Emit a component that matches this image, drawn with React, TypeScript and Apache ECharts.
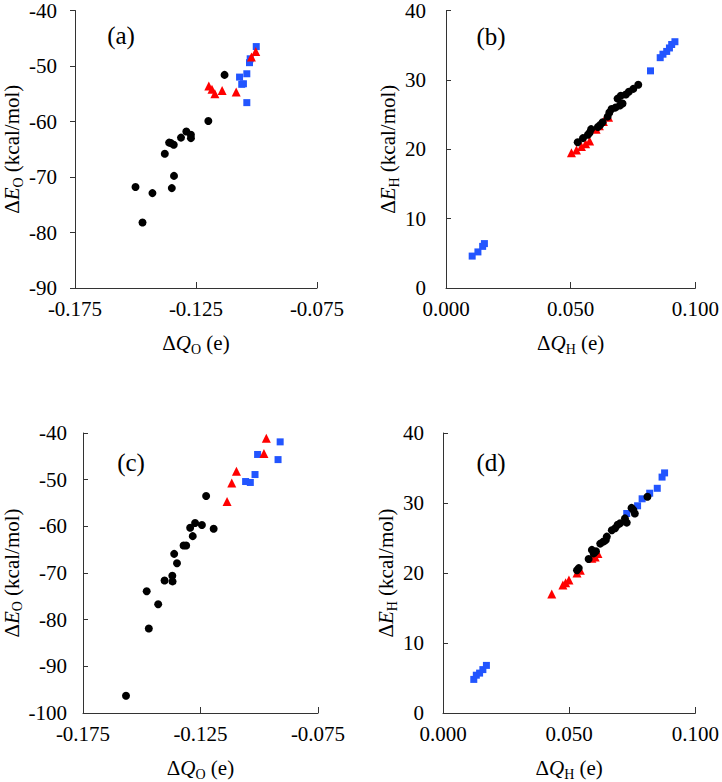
import React, { useEffect, useRef } from 'react';
import * as echarts from 'echarts';

const FONT = 'Liberation Serif';

// ---- tick definitions ----
const xTicksO = [-0.175, -0.125, -0.075];
const xTicksH = [0.0, 0.05, 0.1];
const yTicksA = [-90, -80, -70, -60, -50, -40];
const yTicksB = [0, 10, 20, 30, 40];
const yTicksC = [-100, -90, -80, -70, -60, -50, -40];
const yTicksD = [0, 10, 20, 30, 40];

// ---- panel (a): ΔQO vs ΔEO ----
const aCircles: number[][] = [
  [-0.1132, -51.6], [-0.1199, -59.9], [-0.129, -61.8], [-0.1271, -62.4], [-0.1271, -63.0],
  [-0.1312, -62.9], [-0.1361, -63.8], [-0.1353, -63.9], [-0.1342, -64.2], [-0.1379, -65.8],
  [-0.1341, -69.8], [-0.15, -71.8], [-0.143, -72.9], [-0.135, -72.0], [-0.1471, -78.2],
];
const aTriangles: number[][] = [
  [-0.1197, -53.6], [-0.1184, -54.2], [-0.1172, -55.0], [-0.1142, -54.4], [-0.1084, -54.7],
  [-0.1021, -48.4], [-0.1003, -47.4],
];
const aSquares: number[][] = [
  [-0.1001, -46.5], [-0.1029, -49.4], [-0.1026, -48.7], [-0.104, -51.4], [-0.107, -52.0],
  [-0.1054, -53.2], [-0.1061, -53.3], [-0.104, -56.6],
];

// ---- panel (b): ΔQH vs ΔEH ----
const bCircles: number[][] = [
  [0.0771, 29.3], [0.0751, 28.7], [0.0733, 28.3], [0.0721, 27.9], [0.0701, 27.7],
  [0.0688, 27.3], [0.0708, 26.6], [0.0697, 26.3], [0.0679, 26.0], [0.0664, 25.8],
  [0.0655, 25.3], [0.0648, 24.7], [0.0628, 23.9], [0.0618, 23.5], [0.0609, 23.2],
  [0.0582, 22.9], [0.0576, 22.4], [0.0569, 22.1], [0.0549, 21.6], [0.0528, 21.0],
];
const bTriangles: number[][] = [
  [0.0503, 19.5], [0.0523, 19.9], [0.0543, 20.4], [0.056, 20.8], [0.0576, 21.2],
  [0.0602, 22.9], [0.0615, 23.4], [0.0631, 24.0], [0.0652, 24.6],
];
const bSquares: number[][] = [
  [0.0105, 4.6], [0.0128, 5.2], [0.0147, 6.0], [0.0154, 6.4],
  [0.082, 31.3], [0.0859, 33.2], [0.087, 33.7], [0.0885, 34.1], [0.0896, 34.6],
  [0.0905, 35.1], [0.0918, 35.5],
];

// ---- panel (c): ΔQO vs ΔEO ----
const cCircles: number[][] = [
  [-0.1226, -53.5], [-0.1194, -60.5], [-0.1244, -59.7], [-0.1273, -59.3], [-0.1294, -60.3],
  [-0.1283, -62.1], [-0.1322, -64.1], [-0.1311, -64.1], [-0.1362, -65.9], [-0.135, -67.9],
  [-0.137, -70.6], [-0.1369, -71.8], [-0.1403, -71.6], [-0.1479, -73.9], [-0.143, -76.7],
  [-0.147, -81.9], [-0.1567, -96.3],
];
const cTriangles: number[][] = [
  [-0.1137, -54.7], [-0.1117, -50.7], [-0.1097, -48.2], [-0.098, -44.4], [-0.097, -41.1],
];
const cSquares: number[][] = [
  [-0.0911, -41.9], [-0.092, -45.7], [-0.1007, -44.6], [-0.1018, -48.9], [-0.1038, -50.6],
  [-0.1058, -50.4],
];

// ---- panel (d): ΔQH vs ΔEH ----
const dCircles: number[][] = [
  [0.0531, 20.4], [0.0538, 20.7], [0.0577, 22.0], [0.059, 23.3], [0.0597, 22.8],
  [0.0606, 23.1], [0.0623, 24.2], [0.0636, 24.5], [0.0645, 24.7], [0.0649, 25.2],
  [0.0669, 26.1], [0.0682, 26.4], [0.0692, 26.9], [0.0702, 27.1], [0.0721, 27.8],
  [0.0728, 27.2], [0.0747, 29.3], [0.0754, 29.0], [0.076, 28.5], [0.081, 30.9],
];
const dTriangles: number[][] = [
  [0.0431, 17.0], [0.0475, 18.3], [0.0486, 18.6], [0.0499, 19.0], [0.0531, 20.0],
  [0.0544, 20.4], [0.059, 22.1], [0.0603, 22.3], [0.0614, 22.8],
];
const dSquares: number[][] = [
  [0.0122, 4.8], [0.0132, 5.4], [0.0145, 5.7], [0.0158, 6.2], [0.0172, 6.8],
  [0.0728, 28.5], [0.0771, 29.6], [0.0789, 30.6], [0.0819, 31.4], [0.0849, 32.1],
  [0.0868, 33.7], [0.0878, 34.3],
];

const panelLabels = ['(a)', '(b)', '(c)', '(d)'];

const BLACK = '#000000';
const RED = '#ff0000';
const BLUE = '#2255ff';

const rich = {
  d: { fontFamily: FONT, fontSize: 21, color: '#000' },
  i: { fontFamily: FONT, fontSize: 21, fontStyle: 'italic', color: '#000' },
  s: { fontFamily: FONT, fontSize: 14, color: '#000', padding: [12, 0, 0, 0] },
  n: { fontFamily: FONT, fontSize: 21, color: '#000' },
};

function xAxisDef(grid: number, ticks: number[], sub: string) {
  return {
    type: 'value',
    gridIndex: grid,
    min: ticks[0],
    max: ticks[ticks.length - 1],
    interval: ticks[1] - ticks[0],
    name: `{d|Δ}{i|Q}{s|${sub}}{n| (e)}`,
    nameLocation: 'middle',
    nameGap: 42,
    nameTextStyle: { fontFamily: FONT, fontSize: 21, color: '#000', rich },
    axisLine: { show: true, onZero: false, lineStyle: { color: '#333', width: 1 } },
    axisTick: { show: true, inside: true, length: 6, lineStyle: { color: '#333' } },
    axisLabel: {
      fontFamily: FONT, fontSize: 21, color: '#000', margin: 10,
      formatter: (v: number) => v.toFixed(3),
    },
    splitLine: { show: false },
  };
}

function yAxisDef(grid: number, ticks: number[], sub: string, gap: number, inside: boolean, margin: number) {
  return {
    type: 'value',
    gridIndex: grid,
    min: ticks[0],
    max: ticks[ticks.length - 1],
    interval: ticks[1] - ticks[0],
    name: `{d|Δ}{i|E}{s|${sub}}{n| (kcal/mol)}`,
    nameLocation: 'middle',
    nameRotate: 90,
    nameGap: gap,
    nameTextStyle: { fontFamily: FONT, fontSize: 21, color: '#000', rich },
    axisLine: { show: true, onZero: false, lineStyle: { color: '#333', width: 1 } },
    axisTick: { show: true, inside, length: 5, lineStyle: { color: '#333' } },
    axisLabel: { fontFamily: FONT, fontSize: 21, color: '#000', margin },
    splitLine: { show: false },
  };
}

function scatter(idx: number, data: number[][], symbol: string, color: string, size: number) {
  return {
    type: 'scatter',
    xAxisIndex: idx,
    yAxisIndex: idx,
    data,
    symbol,
    symbolSize: size,
    itemStyle: { color, opacity: 1 },
    silent: true,
  };
}

export default function App() {
  const ref = useRef<HTMLDivElement>(null);
  useEffect(() => {
    if (!ref.current) return;
    const chart = echarts.init(ref.current, null, { renderer: 'svg' });
    const grids = [
      { left: 75, top: 9, width: 242, height: 279 },
      { left: 446, top: 9, width: 253, height: 279 },
      { left: 83, top: 433, width: 235, height: 280 },
      { left: 443, top: 433, width: 255, height: 280 },
    ];
    const panels = [
      [aCircles, aTriangles, aSquares],
      [bCircles, bTriangles, bSquares],
      [cCircles, cTriangles, cSquares],
      [dCircles, dTriangles, dSquares],
    ];
    const series: any[] = [];
    panels.forEach((p, i) => {
      series.push(scatter(i, p[2], 'rect', BLUE, 7));
      series.push(scatter(i, p[1], 'triangle', RED, 9));
      series.push(scatter(i, p[0], 'circle', BLACK, 8));
    });
    const labelPos = [
      [121, 35], [491, 36], [131, 462], [491, 462],
    ];
    chart.setOption({
      animation: false,
      backgroundColor: '#ffffff',
      textStyle: { fontFamily: FONT },
      grid: grids,
      xAxis: [
        xAxisDef(0, xTicksO, 'O'),
        xAxisDef(1, xTicksH, 'H'),
        xAxisDef(2, xTicksO, 'O'),
        xAxisDef(3, xTicksH, 'H'),
      ],
      yAxis: [
        yAxisDef(0, yTicksA, 'O', 50, false, 18),
        yAxisDef(1, yTicksB, 'H', 42, true, 20),
        yAxisDef(2, yTicksC, 'O', 58, true, 16),
        yAxisDef(3, yTicksD, 'H', 42, true, 19),
      ],
      series,
      graphic: panelLabels.map((t, i) => ({
        type: 'text',
        x: labelPos[i][0],
        y: labelPos[i][1],
        style: {
          text: t,
          fontFamily: FONT,
          fontSize: 25,
          fill: '#000',
          align: 'center',
          verticalAlign: 'middle',
        },
      })),
    });
    return () => chart.dispose();
  }, []);
  return (
    <div
      ref={ref}
      style={{ position: 'absolute', left: 0, top: 0, width: 722, height: 782 }}
    />
  );
}
